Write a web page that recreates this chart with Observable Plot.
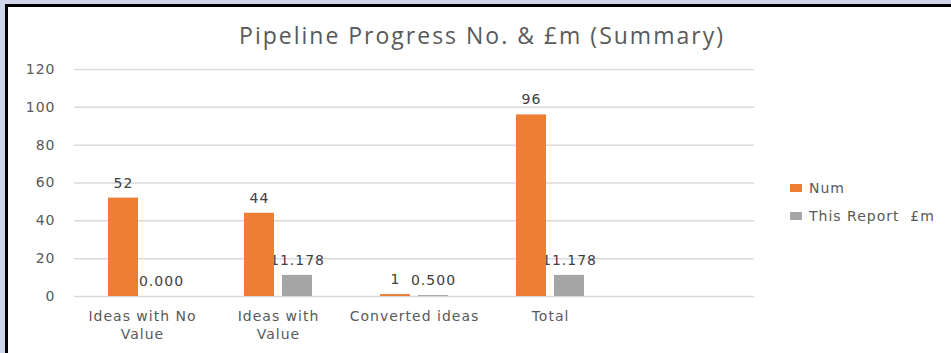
<!DOCTYPE html>
<html><head><meta charset="utf-8">
<script src="https://cdn.jsdelivr.net/npm/d3@7"></script>
<script src="https://cdn.jsdelivr.net/npm/@observablehq/plot@0.6"></script>
<style>
html,body{margin:0;padding:0;width:951px;height:353px;overflow:hidden;background:#cfd5ea;}
#frame{position:absolute;left:5px;top:4px;width:946px;height:349px;border-left:3px solid #000;border-top:3px solid #000;background:#fff;box-sizing:border-box;}
#title{position:absolute;left:0;top:19px;width:951px;padding-left:13px;box-sizing:border-box;text-align:center;font:23px "Open Sans";color:#595959;letter-spacing:2px;}
#chart{position:absolute;left:0;top:55px;}
#chart text{letter-spacing:1px;}
#legend{position:absolute;left:790px;top:180px;}
.lg-swatches{font:14px "DejaVu Sans" !important;color:#595959;margin:0 !important;letter-spacing:1px;}
.lg-swatch{padding-bottom:12px !important;}
.lg-swatch-label{white-space:pre !important;}
</style></head>
<body>
<div id="frame"></div>
<div id="title">Pipeline Progress No. &amp; £m (Summary)</div>
<div id="chart"></div>
<div id="legend"></div>
<script>
const categories = ["Ideas with No\nValue", "Ideas with\nValue", "Converted ideas", "Total", ""];
const series = ["Num", "This Report  £m"];
const numValues = [52, 44, 1, 96];
const reportValues = [0.000, 11.178, 0.500, 11.178];
const yTicks = [0, 20, 40, 60, 80, 100, 120];
const colors = ["#ED7D31", "#A5A5A5"];

const numRows = numValues.map((v, i) => ({category: categories[i], value: v, label: String(v)}));
const repRows = reportValues.map((v, i) => ({category: categories[i], value: v, label: v.toFixed(3)}));

const chart = Plot.plot({
  width: 951, height: 298,
  marginLeft: 74, marginRight: 197, marginTop: 14, marginBottom: 57,
  style: {fontFamily: "DejaVu Sans", fontSize: "14px", color: "#595959", background: "transparent", overflow: "visible"},
  x: {domain: categories, padding: 0, axis: null},
  y: {domain: [0, 120], axis: null},
  marks: [
    Plot.gridY(yTicks, {stroke: "#d9d9d9", strokeOpacity: 1, strokeWidth: 1.5}),
    Plot.axisY(yTicks, {tickSize: 0, tickPadding: 19, fill: "#595959", fontSize: 14, label: null}),
    Plot.axisX(categories, {tickSize: 0, tickPadding: 12, lineHeight: 1.29, fill: "#595959", fontSize: 14, label: null}),
    Plot.text(numRows, {x: "category", y: "value", text: "label", dx: -19, dy: -15, fill: "#404040", fontSize: 14}),
    Plot.text(repRows, {x: "category", y: "value", text: "label", dx: 19, dy: -15, fill: "#404040", fontSize: 14}),
    Plot.barY(numRows, {x: "category", y: "value", fill: colors[0], insetLeft: 34, insetRight: 72}),
    Plot.barY(repRows, {x: "category", y: "value", fill: colors[1], insetLeft: 72, insetRight: 34})
  ]
});
document.getElementById("chart").appendChild(chart);

const legend = Plot.legend({
  color: {type: "ordinal", domain: series, range: colors},
  legend: "swatches", columns: 1, swatchWidth: 12, swatchHeight: 8, className: "lg"
});
document.getElementById("legend").appendChild(legend);
</script>
</body></html>
